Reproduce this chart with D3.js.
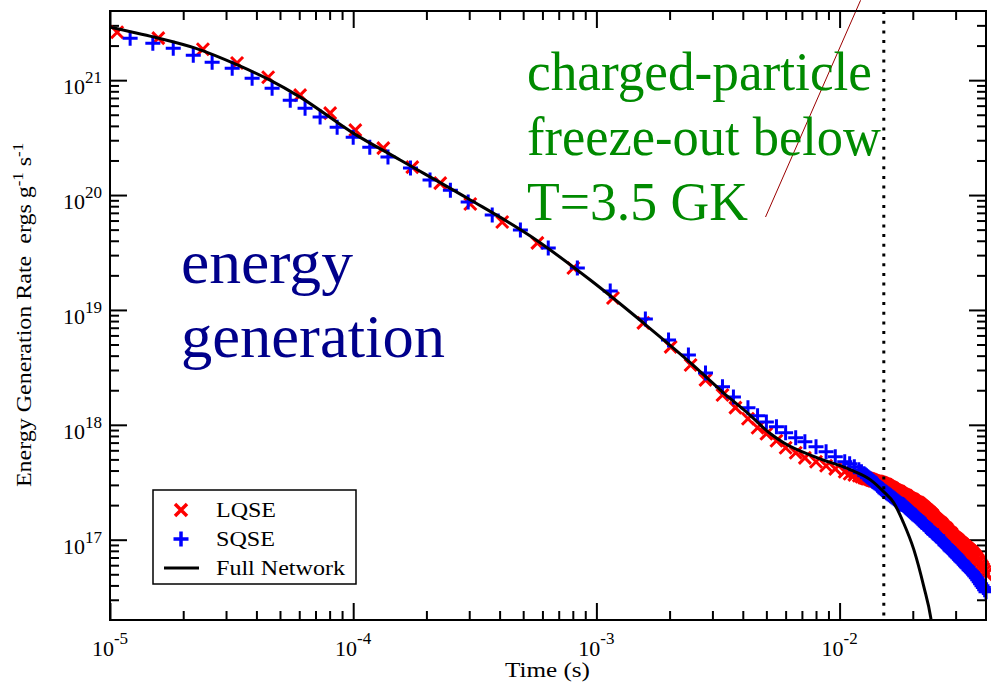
<!DOCTYPE html>
<html><head><meta charset="utf-8">
<script src="https://cdn.jsdelivr.net/npm/d3@7"></script>
<style>
body{margin:0;background:#fff}
svg{display:block}
text{font-family:"Liberation Serif","Times New Roman",Times,serif;fill:#000}
</style>
</head><body>
<svg id="chart" width="991" height="688"></svg>
<script>
// ---------------- data ----------------
const xDomain = [1e-5, 4e-2];
const yDomain = [2e16, 4e21];
const xMajorTicks = [1e-5, 1e-4, 1e-3, 1e-2];
const xTickExponents = ["-5", "-4", "-3", "-2"];
const yMajorTicks = [1e17, 1e18, 1e19, 1e20, 1e21];
const yTickExponents = ["17", "18", "19", "20", "21"];

const fullTime = [1.0e-5, 1.53e-5, 2.24e-5, 3.36e-5, 4.55e-5, 6.05e-5, 1.0e-4, 1.56e-4, 2.94e-4, 5.35e-4, 9.44e-4,
  1.56e-3, 2.44e-3, 3.33e-3, 4.18e-3, 5.20e-3, 5.89e-3, 8.11e-3, 1.11e-2, 1.34e-2, 1.52e-2, 1.67e-2, 1.83e-2,
  2.02e-2, 2.22e-2, 2.37e-2, 2.41e-2];
const fullRate = [2.89e21, 2.36e21, 1.90e21, 1.35e21, 1.0e21, 7.12e20, 3.46e20, 2.02e20, 9.42e19, 4.40e19, 1.82e19,
  7.71e18, 3.46e18, 1.90e18, 1.27e18, 8.35e17, 6.97e17, 5.16e17, 4.06e17, 3.32e17, 2.61e17, 2.10e17, 1.41e17,
  8.19e16, 3.90e16, 2.10e16, 1.65e16];

const lqseTime = [1.07e-5, 1.58e-5, 2.41e-5, 3.33e-5, 4.47e-5, 6.05e-5, 8.04e-5, 1.02e-4, 1.33e-4, 1.75e-4, 2.28e-4,
  3.03e-4, 4.10e-4, 5.72e-4, 8.04e-4, 1.17e-3, 1.56e-3, 2.02e-3, 2.44e-3, 2.81e-3, 3.30e-3, 3.73e-3,
  4.2e-3, 4.6e-3, 5.0e-3, 5.5e-3, 6.0e-3, 6.6e-3, 7.2e-3, 8.0e-3, 8.8e-3, 9.6e-3,
  1.05e-2, 1.1e-2, 1.15e-2, 1.2e-2,
  1.23e-2, 1.26e-2, 1.29e-2, 1.32e-2, 1.35e-2, 1.38e-2, 1.415e-2, 1.45e-2, 1.485e-2, 1.52e-2, 1.56e-2,
  1.6e-2, 1.64e-2, 1.68e-2, 1.72e-2, 1.76e-2, 1.80e-2, 1.84e-2, 1.88e-2, 1.92e-2, 1.96e-2,
  2.0e-2, 2.05e-2, 2.1e-2, 2.15e-2, 2.2e-2, 2.25e-2, 2.3e-2, 2.35e-2, 2.4e-2, 2.45e-2, 2.5e-2, 2.56e-2,
  2.62e-2, 2.68e-2, 2.75e-2, 2.81e-2, 2.88e-2, 2.94e-2,
  3.0e-2, 3.07e-2, 3.15e-2, 3.22e-2, 3.3e-2, 3.37e-2, 3.45e-2, 3.52e-2, 3.6e-2, 3.7e-2, 3.8e-2, 3.9e-2, 4.0e-2];
const lqseRate = [2.61e21, 2.32e21, 1.86e21, 1.41e21, 1.06e21, 7.41e20, 5.16e20, 3.67e20, 2.56e20, 1.75e20, 1.27e20,
  8.35e19, 5.82e19, 3.83e19, 2.32e19, 1.27e19, 7.71e18, 4.77e18, 3.32e18, 2.46e18, 1.82e18, 1.41e18,
  1.13e18, 9.42e17, 8.35e17, 7.26e17, 6.31e17, 5.71e17, 5.16e17, 4.77e17, 4.40e17, 4.14e17,
  3.90e17, 3.75e17, 3.67e17, 3.60e17,
  3.53e17, 3.46e17, 3.42e17, 3.39e17, 3.32e17, 3.26e17, 3.22e17, 3.19e17, 3.13e17, 3.07e17, 3.01e17,
  2.89e17, 2.83e17, 2.72e17, 2.67e17, 2.61e17, 2.51e17, 2.46e17, 2.41e17, 2.32e17, 2.27e17,
  2.23e17, 2.14e17, 2.10e17, 2.02e17, 1.94e17, 1.86e17, 1.79e17, 1.72e17, 1.65e17, 1.55e17, 1.49e17, 1.43e17,
  1.38e17, 1.30e17, 1.25e17, 1.17e17, 1.13e17, 1.06e17,
  1.03e17, 9.86e16, 9.40e16, 9.01e16, 8.59e16, 8.30e16, 7.97e16, 7.65e16, 7.23e16, 6.67e16, 6.12e16, 5.57e16, 5.0e16];
// extra LQSE samples in the dense late-time stretch (after the freeze-out the steps are very close)
const lqseDenseTime = [1.275e-2, 1.305e-2, 1.335e-2, 1.365e-2, 1.397e-2, 1.432e-2, 1.467e-2, 1.502e-2, 1.54e-2, 1.58e-2,
  1.62e-2, 1.66e-2, 1.70e-2, 1.74e-2, 1.78e-2, 1.82e-2, 1.86e-2, 1.90e-2, 1.94e-2, 1.98e-2,
  2.025e-2, 2.075e-2, 2.125e-2, 2.175e-2, 2.225e-2, 2.275e-2, 2.325e-2, 2.375e-2, 2.425e-2, 2.475e-2,
  2.53e-2, 2.59e-2, 2.65e-2, 2.715e-2, 2.78e-2, 2.845e-2, 2.91e-2, 2.97e-2,
  3.035e-2, 3.11e-2, 3.185e-2, 3.26e-2, 3.335e-2, 3.41e-2, 3.485e-2, 3.56e-2, 3.65e-2, 3.75e-2, 3.85e-2, 3.95e-2];
const lqseDenseRate = [3.44e17, 3.40e17, 3.35e17, 3.29e17, 3.24e17, 3.20e17, 3.16e17, 3.10e17, 3.04e17, 2.95e17,
  2.86e17, 2.77e17, 2.69e17, 2.64e17, 2.56e17, 2.48e17, 2.43e17, 2.36e17, 2.29e17, 2.25e17,
  2.18e17, 2.12e17, 2.06e17, 1.98e17, 1.90e17, 1.82e17, 1.75e17, 1.68e17, 1.60e17, 1.52e17,
  1.46e17, 1.40e17, 1.34e17, 1.27e17, 1.21e17, 1.15e17, 1.09e17, 1.04e17,
  1.01e17, 9.63e16, 9.21e16, 8.82e16, 8.47e16, 8.12e16, 7.82e16, 7.45e16, 6.97e16, 6.39e16, 5.85e16, 5.29e16];

const sqseTime = [1.21e-5, 1.50e-5, 1.82e-5, 2.20e-5, 2.63e-5, 3.18e-5, 3.84e-5, 4.64e-5, 5.51e-5, 6.34e-5, 7.31e-5,
  8.59e-5, 1.00e-4, 1.17e-4, 1.39e-4, 1.72e-4, 2.07e-4, 2.51e-4, 2.97e-4, 3.73e-4, 4.87e-4, 6.34e-4, 8.35e-4,
  1.14e-3, 1.59e-3, 1.98e-3, 2.39e-3, 2.81e-3, 3.30e-3, 3.66e-3,
  4.2e-3, 4.6e-3, 5.0e-3, 5.5e-3, 6.0e-3, 6.6e-3, 7.2e-3, 8.0e-3, 8.8e-3, 9.6e-3,
  1.05e-2, 1.1e-2, 1.15e-2, 1.2e-2,
  1.23e-2, 1.26e-2, 1.29e-2, 1.32e-2, 1.35e-2, 1.38e-2, 1.415e-2, 1.45e-2, 1.485e-2, 1.52e-2, 1.56e-2,
  1.6e-2, 1.64e-2, 1.68e-2, 1.72e-2, 1.76e-2, 1.80e-2, 1.84e-2, 1.88e-2, 1.92e-2, 1.96e-2,
  2.0e-2, 2.05e-2, 2.1e-2, 2.15e-2, 2.2e-2, 2.25e-2, 2.3e-2, 2.35e-2, 2.4e-2, 2.45e-2, 2.5e-2, 2.56e-2,
  2.62e-2, 2.68e-2, 2.75e-2, 2.81e-2, 2.88e-2, 2.94e-2,
  3.0e-2, 3.07e-2, 3.15e-2, 3.22e-2, 3.3e-2, 3.37e-2, 3.45e-2, 3.52e-2, 3.6e-2, 3.7e-2, 3.8e-2, 3.9e-2, 4.0e-2];
const sqseRate = [2.32e21, 2.10e21, 1.90e21, 1.65e21, 1.43e21, 1.27e21, 1.04e21, 8.52e20, 6.70e20, 5.71e20, 4.77e20,
  3.90e20, 3.19e20, 2.61e20, 2.14e20, 1.72e20, 1.35e20, 1.10e20, 8.69e19, 6.70e19, 4.96e19, 3.46e19, 2.32e19,
  1.46e19, 8.35e18, 5.48e18, 4.06e18, 2.83e18, 2.14e18, 1.75e18,
  1.41e18, 1.20e18, 1.06e18, 9.6e17, 8.52e17, 7.71e17, 7.12e17, 6.44e17, 5.82e17, 5.27e17,
  4.77e17, 4.58e17, 4.31e17, 4.06e17,
  3.90e17, 3.75e17, 3.60e17, 3.46e17, 3.32e17, 3.19e17, 3.07e17, 2.89e17, 2.78e17, 2.67e17, 2.56e17,
  2.46e17, 2.36e17, 2.27e17, 2.18e17, 2.10e17, 2.04e17, 1.98e17, 1.90e17, 1.82e17, 1.75e17,
  1.68e17, 1.62e17, 1.54e17, 1.46e17, 1.41e17, 1.35e17, 1.27e17, 1.22e17, 1.17e17, 1.13e17, 1.08e17, 1.04e17,
  9.8e16, 9.42e16, 8.87e16, 8.52e16, 8.02e16, 7.71e16,
  7.41e16, 6.97e16, 6.57e16, 6.31e16, 5.94e16, 5.71e16, 5.38e16, 5.16e16, 4.86e16, 4.49e16, 4.14e16, 3.83e16, 3.53e16];
// extra SQSE samples in the dense late-time stretch
const sqseDenseTime = [1.275e-2, 1.305e-2, 1.335e-2, 1.365e-2, 1.397e-2, 1.432e-2, 1.467e-2, 1.502e-2, 1.54e-2, 1.58e-2,
  1.62e-2, 1.66e-2, 1.70e-2, 1.74e-2, 1.78e-2, 1.82e-2, 1.86e-2, 1.90e-2, 1.94e-2, 1.98e-2,
  2.025e-2, 2.075e-2, 2.125e-2, 2.175e-2, 2.225e-2, 2.275e-2, 2.325e-2, 2.375e-2, 2.425e-2, 2.475e-2,
  2.53e-2, 2.59e-2, 2.65e-2, 2.715e-2, 2.78e-2, 2.845e-2, 2.91e-2, 2.97e-2,
  3.035e-2, 3.11e-2, 3.185e-2, 3.26e-2, 3.335e-2, 3.41e-2, 3.485e-2, 3.56e-2, 3.65e-2, 3.75e-2, 3.85e-2, 3.95e-2];
const sqseDenseRate = [3.67e17, 3.53e17, 3.39e17, 3.25e17, 3.13e17, 2.98e17, 2.83e17, 2.72e17, 2.61e17, 2.51e17,
  2.41e17, 2.32e17, 2.23e17, 2.14e17, 2.06e17, 2.02e17, 1.94e17, 1.86e17, 1.79e17, 1.72e17,
  1.65e17, 1.58e17, 1.49e17, 1.43e17, 1.38e17, 1.30e17, 1.25e17, 1.20e17, 1.15e17, 1.11e17,
  1.08e17, 1.01e17, 9.6e16, 9.05e16, 8.69e16, 8.19e16, 7.87e16, 7.55e16,
  7.20e16, 6.77e16, 6.44e16, 6.12e16, 5.82e16, 5.48e16, 5.27e16, 5.00e16, 4.67e16, 4.31e16, 3.98e16, 3.67e16];

const freezeOutTime = 1.52e-2;
const pointerStart = [4.96e-3, 6.44e19];
const pointerEnd = [1.22e-2, 4.96e21];
const seriesNames = ["LQSE", "SQSE", "Full Network"];
const xTitle = "Time (s)";
const blueNote = ["energy", "generation"];
const greenNote = ["charged-particle", "freeze-out below", "T=3.5 GK"];

// ---------------- layout ----------------
const M = {left: 110, right: 986, top: 11, bottom: 620};
const svg = d3.select("#chart");
const x = d3.scaleLog().domain(xDomain).range([M.left, M.right]);
const y = d3.scaleLog().domain(yDomain).range([M.bottom, M.top]);

svg.append("defs").append("clipPath").attr("id", "plotclip")
  .append("rect").attr("x", M.left).attr("y", M.top)
  .attr("width", M.right - M.left).attr("height", M.bottom - M.top);

// ---------------- axes (inward ticks on all sides) ----------------
const isPow10 = v => Math.abs(Math.log10(v) - Math.round(Math.log10(v))) < 1e-6;
const xMinor = x.ticks().filter(v => !isPow10(v) && v < xDomain[1] * 0.999);
const yMinor = y.ticks().filter(v => !isPow10(v) && v > yDomain[0] * 1.001 && v < yDomain[1] * 0.999);

function addAxis(axisFn, scale, values, size, transform) {
  const g = svg.append("g").attr("transform", transform)
    .call(axisFn(scale).tickValues(values).tickSize(-size).tickSizeOuter(0).tickFormat(""));
  g.select(".domain").remove();
  g.selectAll(".tick line").attr("stroke", "#000").attr("stroke-width", 2);
}
addAxis(d3.axisBottom, x, xMajorTicks, 17, `translate(0,${M.bottom})`);
addAxis(d3.axisBottom, x, xMinor, 9, `translate(0,${M.bottom})`);
addAxis(d3.axisTop, x, xMajorTicks, 17, `translate(0,${M.top})`);
addAxis(d3.axisTop, x, xMinor, 9, `translate(0,${M.top})`);
addAxis(d3.axisLeft, y, yMajorTicks, 17, `translate(${M.left},0)`);
addAxis(d3.axisLeft, y, yMinor, 9, `translate(${M.left},0)`);
addAxis(d3.axisRight, y, yMajorTicks, 17, `translate(${M.right},0)`);
addAxis(d3.axisRight, y, yMinor, 9, `translate(${M.right},0)`);

// tick labels  10^n
xMajorTicks.forEach((v, i) => {
  const t = svg.append("text").attr("x", x(v)).attr("y", 656)
    .attr("text-anchor", "middle").attr("font-size", 22);
  t.append("tspan").text("10");
  t.append("tspan").attr("dy", -12).attr("font-size", 17).text(xTickExponents[i]);
});
yMajorTicks.forEach((v, i) => {
  const t = svg.append("text").attr("x", 102).attr("y", y(v) + 14)
    .attr("text-anchor", "end").attr("font-size", 22);
  t.append("tspan").text("10");
  t.append("tspan").attr("dy", -11).attr("font-size", 17).text(yTickExponents[i]);
});

// axis titles
svg.append("text").attr("x", 505).attr("y", 677).attr("font-size", 22)
  .attr("textLength", 85).attr("lengthAdjust", "spacingAndGlyphs").text(xTitle);

const yt = svg.append("g").attr("transform", "translate(31,315) rotate(-90) scale(1.2,1)")
  .append("text").attr("text-anchor", "middle").attr("font-size", 20);
yt.append("tspan").text("Energy Generation Rate\u00a0\u00a0ergs g");
yt.append("tspan").attr("dy", -8).attr("font-size", 14).text("-1");
yt.append("tspan").attr("dy", 8).text("\u00a0s");
yt.append("tspan").attr("dy", -8).attr("font-size", 14).text("-1");

// ---------------- marks ----------------
const plot = svg.append("g");
const crossPath = "M-6,-6L6,6M-6,6L6,-6";
const plusPath = "M-7.5,0H7.5M0,-7.5V7.5";

const lqse = lqseTime.map((t, i) => ({t, e: lqseRate[i]}))
  .concat(lqseDenseTime.map((t, i) => ({t, e: lqseDenseRate[i]})));
const sqse = sqseTime.map((t, i) => ({t, e: sqseRate[i]}))
  .concat(sqseDenseTime.map((t, i) => ({t, e: sqseDenseRate[i]})));
const full = fullTime.map((t, i) => ({t, e: fullRate[i]}));

plot.append("g").selectAll("path").data(lqse).join("path")
  .attr("transform", d => `translate(${x(d.t)},${y(d.e)})`)
  .attr("d", crossPath).attr("stroke", "#ff0000").attr("stroke-width", 3).attr("fill", "none");
plot.append("g").selectAll("path").data(sqse).join("path")
  .attr("transform", d => `translate(${x(d.t)},${y(d.e)})`)
  .attr("d", plusPath).attr("stroke", "#0000ff").attr("stroke-width", 3).attr("fill", "none");

plot.append("path").datum(full).attr("clip-path", "url(#plotclip)")
  .attr("d", d3.line().x(d => x(d.t)).y(d => y(d.e)).curve(d3.curveMonotoneX))
  .attr("fill", "none").attr("stroke", "#000").attr("stroke-width", 3);

// freeze-out dotted line
svg.append("line").attr("x1", x(freezeOutTime)).attr("x2", x(freezeOutTime))
  .attr("y1", M.top).attr("y2", M.bottom)
  .attr("stroke", "#000").attr("stroke-width", 3).attr("stroke-dasharray", "3,6.7");

// pointer line
svg.append("line").attr("x1", x(pointerStart[0])).attr("y1", y(pointerStart[1]))
  .attr("x2", x(pointerEnd[0])).attr("y2", y(pointerEnd[1]))
  .attr("stroke", "#9b0000").attr("stroke-width", 1);

// frame
svg.append("rect").attr("x", M.left).attr("y", M.top)
  .attr("width", M.right - M.left).attr("height", M.bottom - M.top)
  .attr("fill", "none").attr("stroke", "#000").attr("stroke-width", 2);

// annotations
const blueBase = [283, 357], blueLen = [172, 264];
blueNote.forEach((s, i) => svg.append("text").attr("x", 181).attr("y", blueBase[i])
  .attr("font-size", 62).attr("textLength", blueLen[i]).attr("lengthAdjust", "spacingAndGlyphs")
  .style("fill", "#00008b").text(s));
const greenBase = [90, 155, 220], greenLen = [345, 354, 221];
greenNote.forEach((s, i) => svg.append("text").attr("x", 527).attr("y", greenBase[i])
  .attr("font-size", 55).attr("textLength", greenLen[i]).attr("lengthAdjust", "spacingAndGlyphs")
  .style("fill", "#008a00").text(s));

// ---------------- legend ----------------
const lg = svg.append("g");
lg.append("rect").attr("x", 153).attr("y", 490).attr("width", 203).attr("height", 94)
  .attr("fill", "#fff").attr("stroke", "#000").attr("stroke-width", 1.5);
const legRows = [510, 539, 568];
lg.append("path").attr("transform", `translate(181,${legRows[0]})`).attr("d", crossPath)
  .attr("stroke", "#ff0000").attr("stroke-width", 3.5).attr("fill", "none");
lg.append("path").attr("transform", `translate(181,${legRows[1]})`).attr("d", plusPath)
  .attr("stroke", "#0000ff").attr("stroke-width", 3.5).attr("fill", "none");
lg.append("line").attr("x1", 164).attr("x2", 199).attr("y1", legRows[2]).attr("y2", legRows[2])
  .attr("stroke", "#000").attr("stroke-width", 3);
const legLen = [60, 59, 129];
seriesNames.forEach((s, i) => lg.append("text").attr("x", 216).attr("y", legRows[i] + 6.5)
  .attr("font-size", 21).attr("textLength", legLen[i]).attr("lengthAdjust", "spacingAndGlyphs").text(s));
</script>
</body></html>
